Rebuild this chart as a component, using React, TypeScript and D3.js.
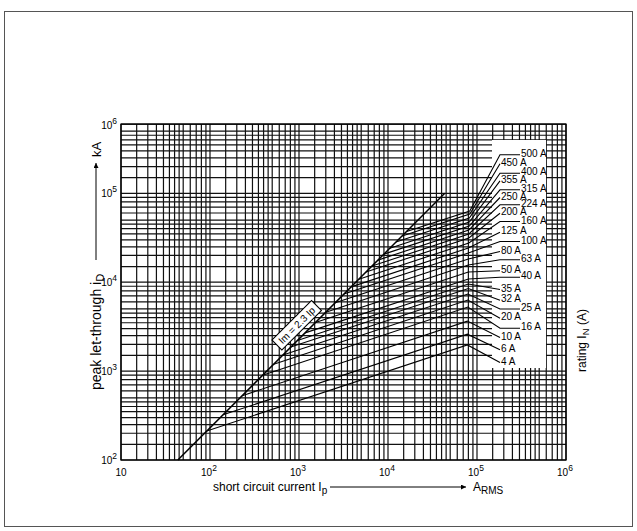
import React from 'react';
import * as d3 from 'd3';

// ---------- data ----------
const ratings = ['4 A', '6 A', '10 A', '16 A', '20 A', '25 A', '32 A', '35 A', '40 A', '50 A', '63 A', '80 A', '100 A', '125 A', '160 A', '200 A', '224 A', '250 A', '315 A', '355 A', '400 A', '450 A', '500 A'];
// prospective current where each curve leaves the Im = 2.3 Ip line (A)
const startCurrent = [92, 140, 230, 390, 520, 660, 810, 960, 1170, 1530, 2000, 2550, 3200, 3850, 4700, 5650, 6600, 7700, 9000, 10500, 12300, 14400, 16200];
const startPeak = [212, 322, 529, 897, 1196, 1518, 1863, 2208, 2691, 3519, 4600, 5865, 7360, 8855, 10810, 12995, 15180, 17710, 20700, 24150, 28290, 33120, 37260];
// end (knee) of each curve
const kneeCurrent = [78000, 78000, 78000, 79000, 79000, 79000, 80000, 80000, 80000, 80000, 80000, 80000, 80000, 80000, 81000, 81000, 81000, 81000, 82000, 82000, 82000, 83000, 83000];
const kneePeak = [1970, 2600, 3650, 5260, 6310, 7370, 8490, 9550, 10860, 13030, 15610, 18240, 21290, 24250, 27600, 31420, 34840, 38640, 42850, 47520, 52700, 58450, 63240];
// Im = 2.3 Ip line
const diagCurrent = [43.5, 43478];
const diagPeak = [100, 100000];
// axis ticks
const xTicks = [10, 100, 1000, 10000, 100000, 1000000];
const xTickExp = ['', '2', '3', '4', '5', '6'];
const yTicks = [100, 1000, 10000, 100000];
const yTickExp = ['2', '3', '4', '5'];
const gridMult = [1, 1.5, 2, 2.5, 3, 3.5, 4, 4.5, 5, 6, 7, 8, 9];

// ---------- layout ----------
const W = 637, H = 531;
const L = 121, R = 566, B = 460;
const DEC = 88.9;
const x = d3.scaleLog().domain([10, 1e6]).range([L, R]);
const yTop = 6e5;
const y = d3.scaleLog().domain([100, yTop]).range([B, B - DEC * Math.log10(yTop / 100)]);
const T = y(yTop);

// label placement in the white legend box (offset from box top, column)
const labelLayout: [number, number][] = [
  [221, 0], [208.3, 0], [196, 0], [186.7, 1], [176.7, 0], [167.5, 1], [158.8, 0], [148, 0],
  [135.7, 1], [129.3, 0], [118.3, 1], [110, 0], [100, 1], [90.7, 0], [80, 1], [71.7, 0],
  [63.3, 1], [56, 0], [48.3, 1], [39.3, 0], [31.7, 1], [22.3, 0], [13.3, 1],
];
const box = { x0: 492, x1: 546, y0: 140, y1: 368 };
const colX = [501, 521];
const leadX = 500;

const FONT = "'Liberation Sans', Arial, Helvetica, sans-serif";

function gridValues(lo: number, hi: number) {
  const out: number[] = [];
  for (let k = Math.floor(Math.log10(lo)); k <= Math.ceil(Math.log10(hi)); k++) {
    for (const m of gridMult) {
      const v = m * Math.pow(10, k);
      if (v >= lo * 0.999 && v <= hi * 1.001) out.push(v);
    }
  }
  return out;
}

export default function App() {
  const xg = gridValues(10, 1e6);
  const yg = gridValues(100, yTop);
  const line = d3.line<[number, number]>().x(d => x(d[0])).y(d => y(d[1]));

  return (
    <div style={{ position: 'absolute', left: 0, top: 0 }}>
      <svg width={W} height={H} style={{ display: 'block', background: '#fff' }} fontFamily={FONT}>
        <defs>
          <marker id="arr" viewBox="0 0 10 10" refX="10" refY="5" markerWidth="7" markerHeight="5" orient="auto" markerUnits="userSpaceOnUse">
            <path d="M0,0 L10,5 L0,10 z" fill="#000" />
          </marker>
        </defs>
        <rect x={4.5} y={11.5} width={628} height={515} fill="none" stroke="#555" strokeWidth={1} />

        {/* grid */}
        <g stroke="#111" strokeWidth={1.2}>
          {xg.map((v, i) => <line key={'xg' + i} x1={x(v)} x2={x(v)} y1={T} y2={B} />)}
          {yg.map((v, i) => <line key={'yg' + i} x1={L} x2={R} y1={y(v)} y2={y(v)} />)}
        </g>
        <rect x={L} y={T} width={R - L} height={B - T} fill="none" stroke="#000" strokeWidth={1.3} />

        {/* legend box */}
        <rect x={box.x0} y={box.y0} width={box.x1 - box.x0} height={box.y1 - box.y0} fill="#fff" />

        {/* diagonal Im = 2.3 Ip */}
        <path d={line(diagCurrent.map((c, i) => [c, diagPeak[i]]) as [number, number][]) || ''} fill="none" stroke="#000" strokeWidth={1.5} />

        {/* fuse curves + leaders */}
        <g fill="none" stroke="#000" strokeWidth={1.1}>
          {ratings.map((r, i) => {
            const sx = x(startCurrent[i]), sy = y(startPeak[i]);
            const kx = x(kneeCurrent[i]), ky = y(kneePeak[i]);
            const [off, col] = labelLayout[i];
            const ly = box.y0 + off;
            let d = `M${sx},${sy}L${kx},${ky}L${leadX},${ly + 1.5}`;
            if (col === 1) d += `L${colX[1] - 1},${ly + 1.5}`;
            return <path key={r} d={d} />;
          })}
        </g>
        <g fontSize={10} fill="#000">
          {ratings.map((r, i) => {
            const [off, col] = labelLayout[i];
            return <text key={r} x={colX[col]} y={box.y0 + off + 3.6}>{r}</text>;
          })}
        </g>

        {/* Im label */}
        <g transform={`translate(${x(1100) - 6},${y(2530) - 10}) rotate(-45)`}>
          <rect x={-28} y={-7} width={56} height={14} fill="#fff" stroke="#000" strokeWidth={1.1} />
          <text x={0} y={3.6} fontSize={10} textAnchor="middle">Im = 2.3 Ip</text>
        </g>

        {/* tick labels */}
        <g fontSize={10} fill="#000">
          {xTicks.map((v, i) => (
            <text key={'xt' + i} x={x(v) - (xTickExp[i] ? 1 : 0)} y={B + 16} textAnchor="middle">
              10{xTickExp[i] ? <tspan dy={-5} fontSize={8.5}>{xTickExp[i]}</tspan> : null}
            </text>
          ))}
          {yTicks.map((v, i) => (
            <text key={'yt' + i} x={L - 4} y={y(v) + 3.5} textAnchor="end">
              10<tspan dy={-5} fontSize={8.5}>{yTickExp[i]}</tspan>
            </text>
          ))}
          <text x={L - 4} y={T + 5} textAnchor="end">
            10<tspan dy={-5} fontSize={8.5}>6</tspan>
          </text>
        </g>

        {/* x axis title */}
        <g fontSize={12} fill="#000">
          <text x={213} y={491}>short circuit current I<tspan dy={3} fontSize={10}>p</tspan></text>
          <line x1={330} x2={466} y1={487} y2={487} stroke="#000" strokeWidth={1} markerEnd="url(#arr)" />
          <text x={473} y={491}>A<tspan dy={3} fontSize={10}>RMS</tspan></text>
        </g>

        {/* y axis title */}
        <g fontSize={14} fill="#000">
          <text transform="translate(101,390) rotate(-90)">peak let-through i<tspan dy={2.5} fontSize={11}>D</tspan></text>
          <line x1={96} x2={96} y1={260} y2={163} stroke="#000" strokeWidth={1} markerEnd="url(#arr)" />
          <text transform="translate(101,157) rotate(-90)" fontSize={13}>kA</text>
        </g>

        {/* right title */}
        <text transform="translate(586,372) rotate(-90)" fontSize={12} fill="#000">
          rating I<tspan dy={2.5} fontSize={9.5}>N</tspan><tspan dy={-2.5}> (A)</tspan>
        </text>
      </svg>
    </div>
  );
}
